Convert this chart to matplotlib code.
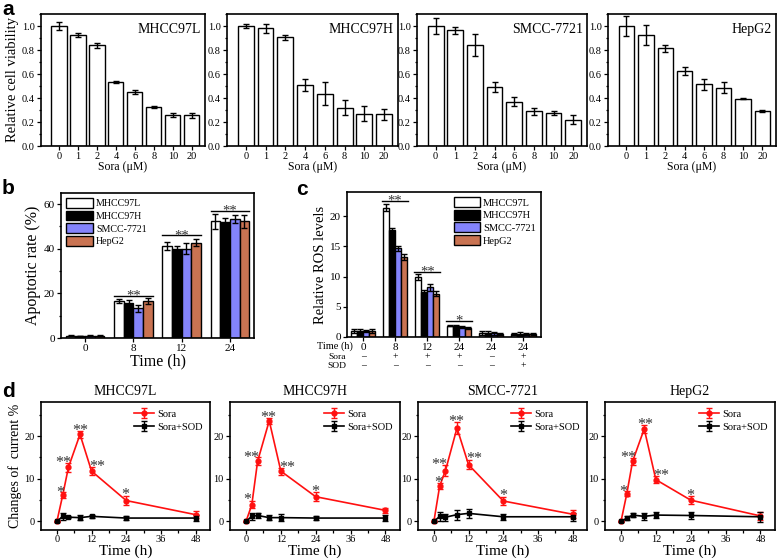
import matplotlib
matplotlib.use('Agg')
import matplotlib.pyplot as plt
import matplotlib.transforms as mtransforms
from matplotlib.ticker import MultipleLocator, FormatStrFormatter
import numpy as np

plt.rcParams['font.family'] = ['Liberation Serif', 'DejaVu Serif']
plt.rcParams['axes.linewidth'] = 1.2

# ---------------- data ----------------
cells = ['MHCC97L', 'MHCC97H', 'SMCC-7721', 'HepG2']
cell_colors = ['white', 'black', '#8484fc', '#c97352']

# panel a: viability vs Sora dose
doses = ['0', '1', '2', '4', '6', '8', '10', '20']
via_97L = [1.00, 0.925, 0.84, 0.535, 0.45, 0.325, 0.26, 0.255]
via_97L_err = [0.03, 0.02, 0.02, 0.01, 0.02, 0.01, 0.015, 0.02]
via_97H = [1.00, 0.98, 0.905, 0.505, 0.435, 0.32, 0.27, 0.265]
via_97H_err = [0.015, 0.035, 0.02, 0.05, 0.095, 0.06, 0.065, 0.045]
via_7721 = [1.00, 0.965, 0.84, 0.49, 0.37, 0.29, 0.275, 0.22]
via_7721_err = [0.07, 0.03, 0.09, 0.04, 0.035, 0.03, 0.015, 0.035]
via_hep = [1.00, 0.925, 0.815, 0.625, 0.515, 0.485, 0.395, 0.29]
via_hep_err = [0.08, 0.08, 0.03, 0.03, 0.045, 0.045, 0.005, 0.01]

# panel b: apoptosis
times_b = ['0', '8', '12', '24']
apop_97L = [1.0, 16.6, 41.2, 52.3]
apop_97L_err = [0.3, 1.0, 1.8, 3.5]
apop_97H = [0.9, 15.8, 39.8, 51.8]
apop_97H_err = [0.2, 1.2, 1.5, 2.2]
apop_7721 = [1.0, 13.3, 40.0, 53.3]
apop_7721_err = [0.3, 1.5, 2.5, 1.8]
apop_hep = [1.0, 16.6, 42.7, 52.3]
apop_hep_err = [0.2, 1.3, 1.6, 3.0]
sig_b_groups = [1, 2, 3]
sig_b_levels = [19, 46, 57]
sig_b_marks = ['**', '**', '**']

# panel c: ROS
times_c = ['0', '8', '12', '24', '24', '24']
sora_c = ['\u2013', '+', '+', '+', '\u2013', '+']
sod_c = ['\u2013', '\u2013', '\u2013', '\u2013', '\u2013', '+']
ros_97L = [1.0, 21.4, 9.9, 1.9, 0.7, 0.5]
ros_97L_err = [0.3, 0.6, 0.5, 0.15, 0.3, 0.2]
ros_97H = [1.0, 17.7, 7.5, 1.9, 0.7, 0.5]
ros_97H_err = [0.35, 0.3, 0.2, 0.1, 0.35, 0.3]
ros_7721 = [1.0, 14.7, 8.2, 1.7, 0.6, 0.5]
ros_7721_err = [0.2, 0.4, 0.6, 0.15, 0.2, 0.2]
ros_hep = [1.0, 13.3, 7.2, 1.5, 0.5, 0.5]
ros_hep_err = [0.4, 0.5, 0.4, 0.1, 0.1, 0.15]
sig_c_groups = [1, 2, 3]
sig_c_levels = [22.5, 10.8, 2.6]
sig_c_marks = ['**', '**', '*']

# panel d: current changes
times_d = [0, 2, 4, 8, 12, 24, 48]
sora_97L = [0, 6.1, 12.7, 20.4, 11.8, 4.9, 1.6]
sora_97L_err = [0.2, 0.7, 1.1, 0.9, 1.0, 1.1, 0.9]
sod_97L = [0, 1.2, 1.0, 0.9, 1.2, 0.8, 0.8]
sod_97L_err = [0.2, 0.8, 0.3, 0.5, 0.3, 0.5, 0.8]
sora_97H = [0, 3.9, 14.1, 23.6, 11.8, 5.8, 2.6]
sora_97H_err = [0.2, 0.8, 0.9, 0.7, 0.8, 1.1, 0.6]
sod_97H = [0, 1.2, 1.4, 0.9, 0.9, 0.8, 0.8]
sod_97H_err = [0.2, 0.8, 0.7, 0.5, 0.9, 0.4, 0.8]
sora_7721 = [0, 8.3, 11.9, 21.9, 13.3, 4.8, 1.7]
sora_7721_err = [0.2, 0.8, 1.3, 1.3, 1.1, 1.0, 0.9]
sod_7721 = [0, 1.2, 1.0, 1.6, 1.9, 1.1, 1.1]
sod_7721_err = [0.2, 1.0, 0.8, 1.2, 1.1, 0.7, 1.0]
sora_hep = [0, 6.5, 14.1, 21.7, 9.8, 5.0, 1.3]
sora_hep_err = [0.2, 0.6, 0.8, 1.0, 0.8, 1.0, 1.0]
sod_hep = [0, 0.8, 1.5, 1.2, 1.5, 1.4, 1.1]
sod_hep_err = [0.2, 0.4, 0.5, 0.8, 0.7, 0.8, 1.2]
# significance stars (visual centre of each mark)
star_marks = ['*', '**', '**', '**', '*']
star_x_97L = [1.1, 2.3, 8.2, 13.8, 23.8]
star_y_97L = [7.8, 14.9, 22.4, 13.8, 7.2]
star_x_97H = [0.4, 1.8, 7.8, 14.1, 23.9]
star_y_97H = [6.0, 16.0, 25.3, 13.7, 8.1]
star_x_7721 = [1.4, 1.8, 7.9, 14.1, 23.9]
star_y_7721 = [10.2, 14.3, 24.4, 15.8, 7.0]
star_x_hep = [0.9, 2.5, 8.5, 13.7, 23.9]
star_y_hep = [7.9, 15.9, 23.8, 11.7, 7.1]

W, H = 778, 558
fig = plt.figure(figsize=(W / 100, H / 100), dpi=100)


def add_ax(l, t, r, b):
    return fig.add_axes([l / W, 1 - b / H, (r - l) / W, (b - t) / H])


def style(ax, labelsize=7.5):
    ax.tick_params(which='both', direction='out', top=False, right=False,
                   labelsize=labelsize, width=0.9, pad=1.5)
    ax.tick_params(which='major', length=3)
    ax.tick_params(which='minor', length=1.8)


def star(ax, mk, x, y, size, rise=0):
    # put the visual centre of the asterisk(s) at (x, y), shifted up by rise points
    ax.annotate(mk, (x, y), xytext=(0, rise - 0.54 * size), textcoords='offset points',
                ha='center', va='baseline', fontsize=size, color='#333333')


# ---------------- panel a ----------------
a_boxes = [(41, 14, 205, 146), (227, 14, 398, 146), (417, 14, 587, 146), (608, 14, 776, 146)]
via_all = [via_97L, via_97H, via_7721, via_hep]
via_err_all = [via_97L_err, via_97H_err, via_7721_err, via_hep_err]
xa = np.arange(len(doses))
for i, box in enumerate(a_boxes):
    ax = add_ax(*box)
    ax.bar(xa, via_all[i], 0.8, yerr=via_err_all[i], color='white', edgecolor='black',
           linewidth=1.0, capsize=2.2, error_kw=dict(elinewidth=1.0, capthick=1.0))
    ax.set_xlim(-0.95, 7.7)
    ax.set_ylim(0, 1.1)
    ax.set_xticks(xa)
    ax.set_xticklabels(doses)
    ax.yaxis.set_major_locator(MultipleLocator(0.2))
    ax.yaxis.set_minor_locator(MultipleLocator(0.1))
    ax.yaxis.set_major_formatter(FormatStrFormatter('%.1f'))
    style(ax, 7.5)
    ax.set_xlabel('Sora (\u03bcM)', fontsize=8.5, labelpad=0)
    ax.text(0.975, 0.93, cells[i], transform=ax.transAxes, ha='right', va='top', fontsize=10)
    if i == 0:
        ax.set_ylabel('Relative cell viability', fontsize=10.5, labelpad=2)

# ---------------- panel b ----------------
ax = add_ax(61, 193, 254, 338)
xb = np.arange(len(times_b))
apop_all = [apop_97L, apop_97H, apop_7721, apop_hep]
apop_err_all = [apop_97L_err, apop_97H_err, apop_7721_err, apop_hep_err]
for k in range(4):
    ax.bar(xb + (k - 1.5) * 0.2, apop_all[k], 0.2, yerr=apop_err_all[k], color=cell_colors[k],
           edgecolor='black', linewidth=1.0, capsize=2.2, label=cells[k],
           error_kw=dict(elinewidth=1.0, capthick=1.0))
for g, lv, mk in zip(sig_b_groups, sig_b_levels, sig_b_marks):
    ax.plot([g - 0.4, g + 0.4], [lv, lv], color='black', lw=1.0)
    star(ax, mk, g, lv, 10.5, rise=3)
ax.set_xlim(-0.5, 3.5)
ax.set_ylim(0, 65)
ax.set_xticks(xb)
ax.set_xticklabels(times_b)
ax.yaxis.set_major_locator(MultipleLocator(20))
ax.yaxis.set_minor_locator(MultipleLocator(10))
style(ax, 8)
ax.set_xlabel('Time (h)', fontsize=11.5, labelpad=0)
ax.set_ylabel('Apoptotic rate (%)', fontsize=11.5, labelpad=2)
ax.legend(loc='upper left', frameon=False, fontsize=7.2, handlelength=2.7, handleheight=1.1,
          labelspacing=0.25, borderaxespad=0.3, handletextpad=0.3, borderpad=0.2)

# ---------------- panel c ----------------
ax = add_ax(347, 192, 541, 337)
xc = np.arange(len(times_c))
ros_all = [ros_97L, ros_97H, ros_7721, ros_hep]
ros_err_all = [ros_97L_err, ros_97H_err, ros_7721_err, ros_hep_err]
for k in range(4):
    ax.bar(xc + (k - 1.5) * 0.19, ros_all[k], 0.19, yerr=ros_err_all[k], color=cell_colors[k],
           edgecolor='black', linewidth=1.0, capsize=2.0, label=cells[k],
           error_kw=dict(elinewidth=1.0, capthick=1.0))
for g, lv, mk in zip(sig_c_groups, sig_c_levels, sig_c_marks):
    ax.plot([g - 0.4, g + 0.4], [lv, lv], color='black', lw=1.0)
    star(ax, mk, g, lv, 10.5, rise=3)
ax.set_xlim(-0.5, 5.55)
ax.set_ylim(0, 24)
ax.set_xticks(xc)
ax.set_xticklabels(times_c)
ax.yaxis.set_major_locator(MultipleLocator(5))
style(ax, 8)
ax.tick_params(axis='x', pad=1)
ax.set_ylabel('Relative ROS levels', fontsize=10.5, labelpad=2)
tr = mtransforms.blended_transform_factory(ax.transData, ax.transAxes)
for j in range(len(times_c)):
    ax.text(xc[j], -0.135, sora_c[j], transform=tr, ha='center', va='center', fontsize=7)
    ax.text(xc[j], -0.2, sod_c[j], transform=tr, ha='center', va='center', fontsize=7)
ax.text(0.028, -0.065, 'Time (h)', transform=ax.transAxes, ha='right', va='center', fontsize=7.5)
ax.text(-0.005, -0.135, 'Sora', transform=ax.transAxes, ha='right', va='center', fontsize=6.8)
ax.text(-0.005, -0.2, 'SOD', transform=ax.transAxes, ha='right', va='center', fontsize=6.8)
ax.legend(loc='upper right', frameon=False, fontsize=7.5, handlelength=2.5, handleheight=1.1,
          labelspacing=0.2, borderaxespad=0.3, handletextpad=0.3, borderpad=0.2)

# ---------------- panel d ----------------
d_boxes = [(41, 402, 210, 530), (230, 402, 400, 530), (418, 402, 587, 530), (605, 402, 775, 530)]
sora_all = [sora_97L, sora_97H, sora_7721, sora_hep]
sora_err_all = [sora_97L_err, sora_97H_err, sora_7721_err, sora_hep_err]
sod_all = [sod_97L, sod_97H, sod_7721, sod_hep]
sod_err_all = [sod_97L_err, sod_97H_err, sod_7721_err, sod_hep_err]
star_x_all = [star_x_97L, star_x_97H, star_x_7721, star_x_hep]
star_y_all = [star_y_97L, star_y_97H, star_y_7721, star_y_hep]
for i, box in enumerate(d_boxes):
    ax = add_ax(*box)
    ax.errorbar(times_d, sora_all[i], yerr=sora_err_all[i], color='#ff1010', marker='o',
                markersize=3.5, lw=1.2, capsize=2, elinewidth=1.0, capthick=1.0, label='Sora')
    ax.errorbar(times_d, sod_all[i], yerr=sod_err_all[i], color='black', marker='s',
                markersize=3.2, lw=1.2, capsize=2, elinewidth=1.0, capthick=1.0, label='Sora+SOD')
    for sx, sy, mk in zip(star_x_all[i], star_y_all[i], star_marks):
        star(ax, mk, sx, sy, 11.5)
    ax.set_xlim(-5.5, 53)
    ax.set_ylim(-2, 28)
    ax.xaxis.set_major_locator(MultipleLocator(12))
    ax.xaxis.set_minor_locator(MultipleLocator(6))
    ax.yaxis.set_major_locator(MultipleLocator(10))
    ax.yaxis.set_minor_locator(MultipleLocator(5))
    style(ax, 7.5)
    ax.tick_params(axis='x', pad=0.8)
    ax.set_title(cells[i], fontsize=10, pad=5)
    ax.set_xlabel('Time (h)', fontsize=11, labelpad=0)
    ax.legend(loc='upper right', frameon=False, fontsize=7.5, handlelength=1.9,
              labelspacing=0.35, borderaxespad=0.3, handletextpad=0.3)
    if i == 0:
        ax.set_ylabel('Changes of  current %', fontsize=10, labelpad=2)

# panel letters
for lab, x, y in [('a', 2, 15), ('b', 2, 194), ('c', 296, 195), ('d', 2, 397)]:
    fig.text(x / W, 1 - y / H, lab, fontsize=15, fontweight='bold',
             family='Liberation Sans', ha='left', va='baseline')

fig.savefig('out.png', dpi=100)
